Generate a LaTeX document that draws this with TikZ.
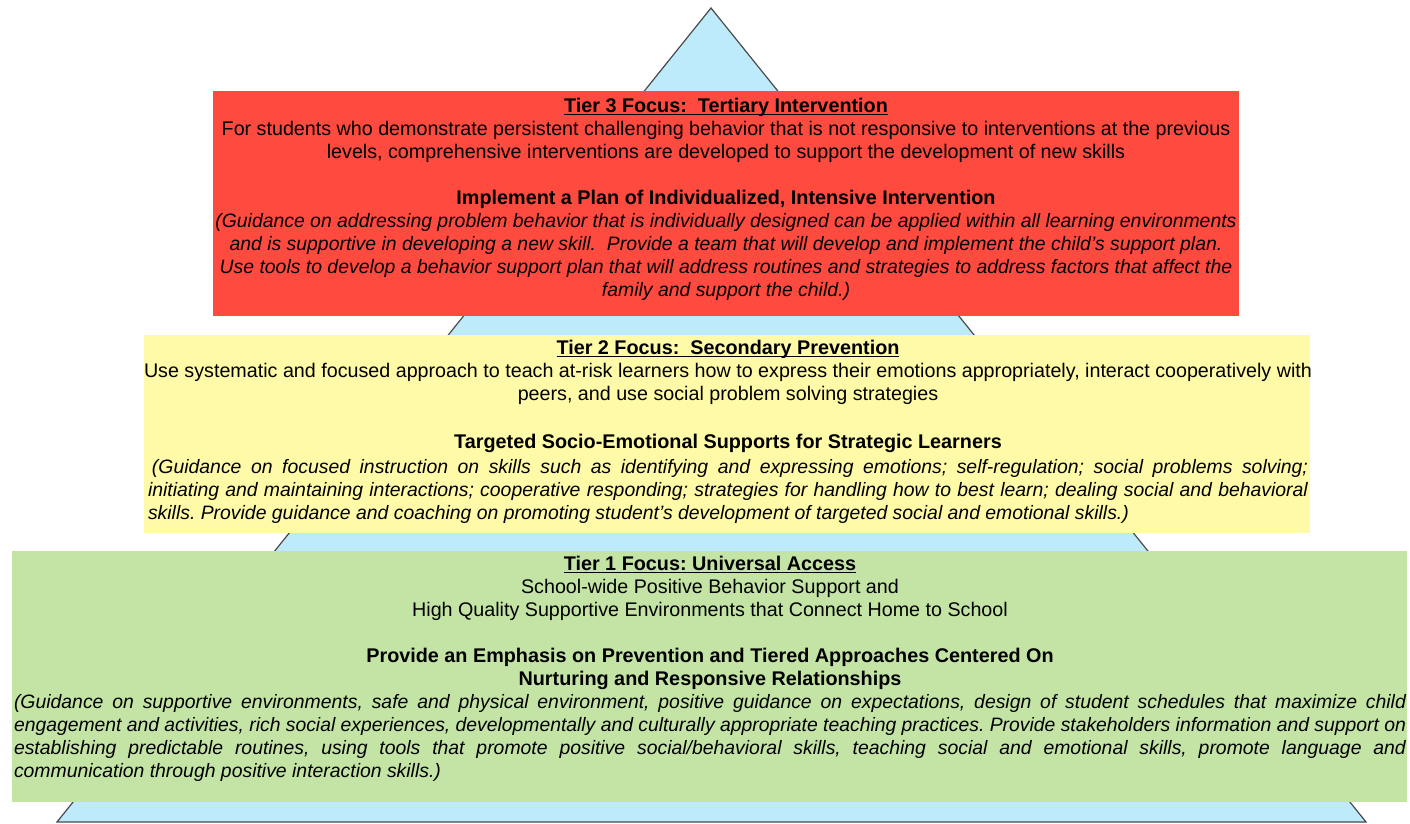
\documentclass[tikz,border=0pt]{standalone}
\usepackage{graphicx}
\usepackage{fontspec}
\setmainfont{Liberation Sans}
\frenchspacing
\definecolor{triblue}{HTML}{BDEBFB}
\definecolor{trigray}{HTML}{4A4A4A}
\definecolor{tierred}{HTML}{FF4A40}
\definecolor{tieryellow}{HTML}{FFFAA8}
\definecolor{tiergreen}{HTML}{C4E4A6}
\tikzset{
  tri/.style={fill=triblue, draw=trigray, line width=0.6pt, line join=miter},
  tierbox/.style={rectangle, draw=none, inner sep=0pt},
  txt/.style={inner sep=0pt, align=flush center, anchor=north, text=black,
              font=\fontsize{9.85}{11.5}\selectfont}
}
\newsavebox\tmpbox
\newcommand{\nsp}{\spaceskip=0pt\xspaceskip=0pt\relax}
\newcommand{\itsz}{\fontsize{9.7}{11.5}\selectfont\itshape\nsp}
\newcommand{\bfsz}{\fontsize{9.9}{11.5}\selectfont\bfseries\nsp}
\newcommand{\jline}[2]{\sbox\tmpbox{\itsz #2}\ifdim\wd\tmpbox>#1\relax\resizebox{#1}{\height}{\usebox\tmpbox}\else\makebox[#1][s]{\itsz #2}\fi}
\newcommand{\lline}[2]{\makebox[#1][l]{\itsz #2}}
\newcommand{\cenline}[1]{{\itsz #1}}
\newcommand{\hdr}[1]{\sbox\tmpbox{\bfsz #1}\rlap{\rule[-1.3pt]{\wd\tmpbox}{0.65pt}}\usebox\tmpbox}
\newcommand{\bline}[1]{{\bfsz #1}}
\begin{document}
\begin{tikzpicture}[x={(0.5pt,0pt)}, y={(0pt,-0.5pt)}]
\useasboundingbox (0,0) rectangle (1410,824);
\fill[white] (0,0) rectangle (1410,824);
% pyramid
\coordinate (apex) at (711,8);
\coordinate (bl) at (57,822);
\coordinate (br) at (1366,822);
\draw[tri] (apex) -- (br) -- (bl) -- cycle;
% tier boxes
\node[tierbox, fill=tierred, minimum width=513pt, minimum height=112.5pt] (t3box) at (726,203.5) {};
\node[tierbox, fill=tieryellow, minimum width=583pt, minimum height=99pt] (t2box) at (727,434) {};
\node[tierbox, fill=tiergreen, minimum width=697.5pt, minimum height=125.5pt] (t1box) at (709.5,676.5) {};
% tier 3 text
\node[txt, text width=600pt] (t3text) at (726,96) {\nsp\strut\hdr{Tier 3 Focus:\ \ Tertiary Intervention}\\
For students who demonstrate persistent challenging behavior that is not responsive to interventions at the previous\\
levels, comprehensive interventions are developed to support the development of new skills\\[11.5pt]
\bline{Implement a Plan of Individualized, Intensive Intervention}\\
\cenline{(Guidance on addressing problem behavior that is individually designed can be applied within all learning environments}\\
\cenline{and is supportive in developing a new skill.\ \ Provide a team that will develop and implement the child’s support plan.}\\
\cenline{Use tools to develop a behavior support plan that will address routines and strategies to address factors that affect the}\\
\cenline{family and support the child.)}};
% tier 2 text
\node[txt, text width=610pt] (t2text) at (728,338) {\nsp\strut\hdr{Tier 2 Focus:\ \ Secondary Prevention}\\
Use systematic and focused approach to teach at-risk learners how to express their emotions appropriately, interact cooperatively with\\
peers, and use social problem solving strategies\\[12.5pt]
\bline{Targeted Socio-Emotional Supports for Strategic Learners}\\[1pt]
\jline{580pt}{\hspace*{2pt}(Guidance on focused instruction on skills such as identifying and expressing emotions; self-regulation; social problems solving;}\\
\jline{580pt}{initiating and maintaining interactions; cooperative responding; strategies for handling how to best learn; dealing social and behavioral}\\
\lline{580pt}{skills. Provide guidance and coaching on promoting student’s development of targeted social and emotional skills.)}};
% tier 1 text
\node[txt, text width=720pt] (t1text) at (710,554) {\nsp\strut\hdr{Tier 1 Focus: Universal Access}\\
School-wide Positive Behavior Support and\\
High Quality Supportive Environments that Connect Home to School\\[11.5pt]
\bline{Provide an Emphasis on Prevention and Tiered Approaches Centered On}\\
\bline{Nurturing and Responsive Relationships}\\
\jline{696pt}{(Guidance on supportive environments, safe and physical environment, positive guidance on expectations, design of student schedules that maximize child}\\
\jline{696pt}{engagement and activities, rich social experiences, developmentally and culturally appropriate teaching practices. Provide stakeholders information and support on}\\
\jline{696pt}{establishing predictable routines, using tools that promote positive social/behavioral skills, teaching social and emotional skills, promote language and}\\
\lline{696pt}{communication through positive interaction skills.)}};
\end{tikzpicture}
\end{document}
